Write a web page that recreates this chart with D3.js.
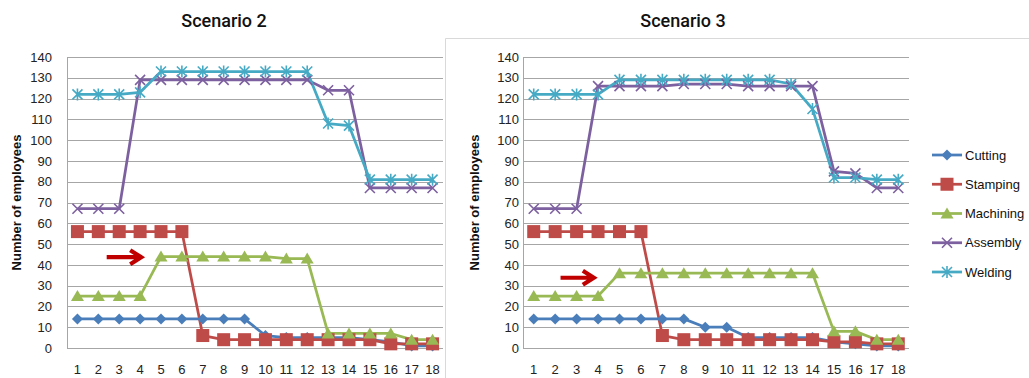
<!DOCTYPE html>
<html>
<head>
<meta charset="utf-8">
<script src="https://cdn.jsdelivr.net/npm/d3@7/dist/d3.min.js"></script>
<style>
  html, body { margin: 0; padding: 0; background: #fff; }
  svg { display: block; font-family: "Liberation Sans", Arial, sans-serif; }
</style>
</head>
<body>
<svg id="chart" width="1029" height="378"></svg>
<script>
// ---------- data ----------
const categories = [1,2,3,4,5,6,7,8,9,10,11,12,13,14,15,16,17,18];
const yTicks = [0,10,20,30,40,50,60,70,80,90,100,110,120,130,140];
const seriesNames = ["Cutting","Stamping","Machining","Assembly","Welding"];

// Scenario 2
const s2Cutting   = [14,14,14,14,14,14,14,14,14,6,5,5,5,5,4,3,1,1];
const s2Stamping  = [56,56,56,56,56,56,6,4,4,4,4,4,4,4,4,2,2,2];
const s2Machining = [25,25,25,25,44,44,44,44,44,44,43,43,7,7,7,7,4,4];
const s2Assembly  = [67,67,67,129,129,129,129,129,129,129,129,129,124,124,77,77,77,77];
const s2Welding   = [122,122,122,123,133,133,133,133,133,133,133,133,108,107,81,81,81,81];

// Scenario 3
const s3Cutting   = [14,14,14,14,14,14,14,14,10,10,5,5,5,5,3,2,1,1];
const s3Stamping  = [56,56,56,56,56,56,6,4,4,4,4,4,4,4,3,3,2,2];
const s3Machining = [25,25,25,25,36,36,36,36,36,36,36,36,36,36,8,8,4,4];
const s3Assembly  = [67,67,67,126,126,126,126,127,127,127,126,126,126,126,85,84,77,77];
const s3Welding   = [122,122,122,122,129,129,129,129,129,129,129,129,127,115,82,82,81,81];

// arrow annotations: [from category, to category, value]
const s2Arrow = [2.4, 4.1, 43.7];
const s3Arrow = [2.25, 3.85, 33.8];

const titles = ["Scenario 2", "Scenario 3"];
const yTitle = "Number of employees";

// ---------- styles ----------
const colors = ["#4A7EBB","#BE4B48","#98B954","#7D60A0","#46AAC5"];
const markers = ["diamond","square","triangle","x","asterisk"];

const svg = d3.select("#chart");

// light frame of second chart
svg.append("path")
  .attr("d", "M445.5,1000 V38.5 H1100")
  .attr("fill","none").attr("stroke","#D9D9D9").attr("stroke-width",1);

function drawMarker(g, type, color) {
  if (type === "diamond") {
    g.append("path").attr("d", "M0,-5.5 L5.5,0 L0,5.5 L-5.5,0 Z").attr("fill", color);
  } else if (type === "square") {
    g.append("rect").attr("x",-6.5).attr("y",-6.5).attr("width",13).attr("height",13).attr("fill", color);
  } else if (type === "triangle") {
    g.append("path").attr("d", "M0,-6 L6.5,5 L-6.5,5 Z").attr("fill", color);
  } else if (type === "x") {
    g.append("path").attr("d", "M-5,-5 L5,5 M-5,5 L5,-5").attr("stroke", color).attr("stroke-width",1.6).attr("fill","none");
  } else if (type === "asterisk") {
    g.append("path").attr("d", "M-5,-5 L5,5 M-5,5 L5,-5 M0,-6 V6").attr("stroke", color).attr("stroke-width",1.6).attr("fill","none");
  }
}

function drawChart(cfg) {
  const { left, right, top, bottom, data, title, titleX, yTitleX, labelGap, arrow } = cfg;
  const g = svg.append("g");

  const x = d3.scaleBand().domain(categories).range([left, right]);
  const y = d3.scaleLinear().domain([0, 140]).range([bottom, top]);
  const cx = c => x(c) + x.bandwidth() / 2;

  // gridlines
  g.append("g").selectAll("line").data(yTicks).join("line")
    .attr("x1", left).attr("x2", right)
    .attr("y1", d => Math.round(y(d)) + 0.5).attr("y2", d => Math.round(y(d)) + 0.5)
    .attr("stroke", "#A6A6A6").attr("stroke-width", 1);

  // left axis line
  g.append("line").attr("x1", left + 0.5).attr("x2", left + 0.5)
    .attr("y1", Math.round(y(140)) + 0.5).attr("y2", Math.round(y(0)) + 0.5)
    .attr("stroke", "#A6A6A6");

  // y tick labels via axis
  const yAxis = d3.axisLeft(y).tickValues(yTicks).tickSize(0).tickPadding(labelGap);
  const ya = g.append("g").attr("transform", `translate(${left},0)`).call(yAxis);
  ya.select(".domain").remove();
  ya.selectAll("text").attr("font-size", 13).attr("fill", "#222")
    .attr("font-family", '"Liberation Sans", Arial, sans-serif');

  // x tick labels via axis
  const xAxis = d3.axisBottom(x).tickSize(0).tickPadding(0);
  const xa = g.append("g").attr("transform", `translate(0,${bottom})`).call(xAxis);
  xa.select(".domain").remove();
  xa.selectAll("text").attr("font-size", 13).attr("fill", "#222")
    .attr("dy", null).attr("y", 26)
    .attr("font-family", '"Liberation Sans", Arial, sans-serif');

  // series
  const line = d3.line().x((d, i) => cx(categories[i])).y(d => y(d));
  data.forEach((vals, si) => {
    g.append("path").attr("d", line(vals)).attr("fill", "none")
      .attr("stroke", colors[si]).attr("stroke-width", 2.75).attr("stroke-linejoin", "round");
  });
  data.forEach((vals, si) => {
    vals.forEach((v, i) => {
      const mg = g.append("g").attr("transform", `translate(${cx(categories[i])},${y(v)})`);
      drawMarker(mg, markers[si], colors[si]);
    });
  });

  // arrow annotation
  const ax1 = cx(1) + (arrow[0] - 1) * x.step();
  const ax2 = cx(1) + (arrow[1] - 1) * x.step();
  const ay = y(arrow[2]);
  g.append("path")
    .attr("d", `M${ax1},${ay} H${ax2 - 3} M${ax2 - 12},${ay - 7} L${ax2 - 1},${ay} L${ax2 - 12},${ay + 7}`)
    .attr("fill", "none").attr("stroke", "#C00000").attr("stroke-width", 4.2)
    .attr("stroke-linejoin", "miter");

  // title
  g.append("text").attr("x", titleX).attr("y", 27).attr("text-anchor", "middle")
    .attr("font-family", "Roboto, 'Liberation Sans', sans-serif").attr("font-weight", 500)
    .attr("font-size", 18).attr("fill", "#111").text(title);

  // y title
  g.append("text").attr("transform", `translate(${yTitleX},${(top + bottom) / 2}) rotate(-90)`)
    .attr("text-anchor", "middle").attr("font-size", 13).attr("font-weight", "bold")
    .attr("fill", "#111").text(yTitle);
}

drawChart({
  left: 67, right: 443, top: 57, bottom: 348,
  data: [s2Cutting, s2Stamping, s2Machining, s2Assembly, s2Welding],
  title: titles[0], titleX: 224, yTitleX: 21, labelGap: 15, arrow: s2Arrow
});
drawChart({
  left: 523, right: 909, top: 57, bottom: 348,
  data: [s3Cutting, s3Stamping, s3Machining, s3Assembly, s3Welding],
  title: titles[1], titleX: 683, yTitleX: 479, labelGap: 4, arrow: s3Arrow
});

// legend
const lg = svg.append("g");
seriesNames.forEach((name, i) => {
  const yy = 155 + i * 29.25;
  lg.append("line").attr("x1", 932).attr("x2", 962).attr("y1", yy).attr("y2", yy)
    .attr("stroke", colors[i]).attr("stroke-width", 2.75);
  const mg = lg.append("g").attr("transform", `translate(947,${yy})`);
  drawMarker(mg, markers[i], colors[i]);
  lg.append("text").attr("x", 965).attr("y", yy + 4.5).attr("font-size", 13)
    .attr("fill", "#111").text(name);
});
</script>
</body>
</html>
